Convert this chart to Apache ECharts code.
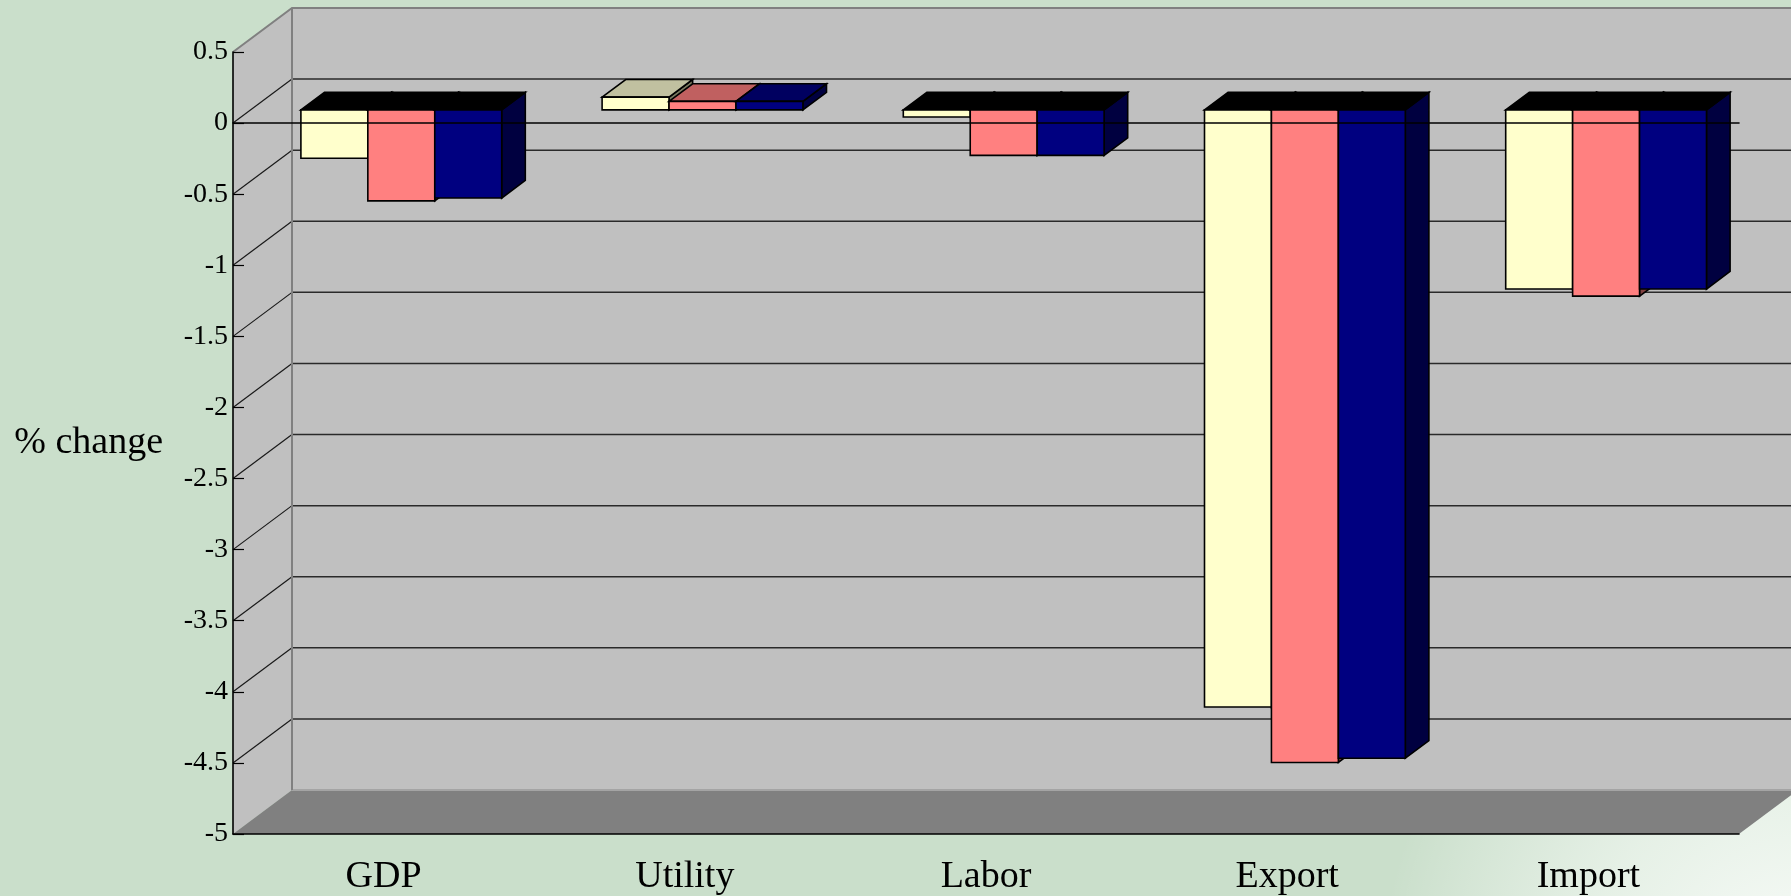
<!DOCTYPE html>
<html>
<head>
<meta charset="utf-8">
<title>% change</title>
<script src="https://cdn.jsdelivr.net/npm/echarts@6/dist/echarts.min.js"></script>
<style>
  html, body { margin: 0; padding: 0; background: #cadfcb; }
  #chart { width: 1791px; height: 896px; }
</style>
</head>
<body>
<div id="chart"></div>
<script>
// Categories and the three scenario results (% change)
const categories = ['GDP', 'Utility', 'Labor', 'Export', 'Import'];
const scenario1 = [-0.34, 0.09, -0.05, -4.20, -1.26];
const scenario2 = [-0.64, 0.06, -0.32, -4.59, -1.31];
const scenario3 = [-0.62, 0.06, -0.32, -4.56, -1.26];

// Value axis ticks
const yTicks = [0.5, 0, -0.5, -1, -1.5, -2, -2.5, -3, -3.5, -4, -4.5, -5];
const Y_MAX = yTicks[0];
const Y_MIN = yTicks[yTicks.length - 1];
const Y_STEP = yTicks[0] - yTicks[1];

// 3D look: depth of the walls in pixels, and the depth slice the bars occupy
const DX = 59, DY = 44;
const F0 = 0.3, F1 = 0.7;

const FRONT = ['#ffffcc', '#ff8080', '#000080'];
const TOP   = ['#c0c0a0', '#c06060', '#000060'];
const SIDE  = ['#7a7a60', '#804040', '#000040'];
const FONT = '"Liberation Serif", "Times New Roman", serif';

const chart = echarts.init(document.getElementById('chart'), null, { renderer: 'canvas' });

function renderWalls(params, api) {
  const cs = params.coordSys;
  const L = cs.x, R = cs.x + cs.width;
  const yAt = v => api.coord([0, v])[1];
  const yTop = yAt(Y_MAX), yBot = yAt(Y_MIN);
  const children = [];
  // side wall
  children.push({ type: 'polygon', shape: { points: [[L, yTop], [L + DX, yTop - DY], [L + DX, yBot - DY], [L, yBot]] },
    style: { fill: '#c0c0c0' } });
  // back wall
  children.push({ type: 'rect', shape: { x: L + DX, y: yTop - DY, width: R - L, height: yBot - yTop },
    style: { fill: '#c0c0c0' } });
  // floor
  children.push({ type: 'polygon', shape: { points: [[L, yBot], [R, yBot], [R + DX, yBot - DY], [L + DX, yBot - DY]] },
    style: { fill: '#808080' } });
  children.push({ type: 'line', shape: { x1: L + DX, y1: yBot - DY, x2: R + DX, y2: yBot - DY },
    style: { stroke: '#a4a4a4', lineWidth: 2 } });
  // gridlines on back wall and side wall
  yTicks.forEach(v => {
    if (v >= Y_MAX || v <= Y_MIN) return;
    const y = yAt(v);
    children.push({ type: 'line', shape: { x1: L + DX, y1: y - DY, x2: R + DX, y2: y - DY },
      style: { stroke: '#2a2a2a', lineWidth: 1.5 } });
    children.push({ type: 'line', shape: { x1: L, y1: y, x2: L + DX, y2: y - DY },
      style: { stroke: '#1a1a1a', lineWidth: 1.2 } });
  });
  // wall rims
  children.push({ type: 'polyline', shape: { points: [[L, yTop], [L + DX, yTop - DY], [R + DX, yTop - DY]] },
    style: { stroke: '#808080', lineWidth: 2, fill: null } });
  children.push({ type: 'line', shape: { x1: L + DX, y1: yTop - DY, x2: L + DX, y2: yBot - DY },
    style: { stroke: '#808080', lineWidth: 2 } });
  return { type: 'group', children };
}

function makeBarRenderer(s) {
  return function (params, api) {
    const cat = api.value(0), val = api.value(1);
    const band = api.size([1, 0])[0];
    const w = band / 4.5;
    const base = api.coord([cat, 0]);
    const yv = api.coord([cat, val])[1];
    const xl = base[0] - 1.5 * w + s * w, xr = xl + w;
    const yt = Math.min(base[1], yv), yb = Math.max(base[1], yv);
    const fx = F0 * DX, fy = F0 * DY, bx = F1 * DX, by = F1 * DY;
    const edge = { stroke: '#000', lineWidth: 1.6, lineJoin: 'miter' };
    const side = { type: 'polygon',
      shape: { points: [[xr + fx, yt - fy], [xr + bx, yt - by], [xr + bx, yb - by], [xr + fx, yb - fy]] },
      style: Object.assign({ fill: SIDE[s] }, edge) };
    const top = { type: 'polygon',
      shape: { points: [[xl + fx, yt - fy], [xl + bx, yt - by], [xr + bx, yt - by], [xr + fx, yt - fy]] },
      style: Object.assign({ fill: val < 0 ? '#000000' : TOP[s] }, edge) };
    const front = { type: 'rect',
      shape: { x: xl + fx, y: yt - fy, width: w, height: yb - yt },
      style: Object.assign({ fill: FRONT[s] }, edge) };
    return { type: 'group', children: [side, top, front] };
  };
}

function toData(arr) { return arr.map((v, i) => [i, v]); }

const option = {
  backgroundColor: '#cadfcb',
  animation: false,
  graphic: [{
    type: 'circle', left: 1380, top: 560, z: -10, silent: true,
    shape: { r: 420 },
    style: {
      fill: {
        type: 'radial', x: 0.5, y: 0.5, r: 0.5,
        colorStops: [
          { offset: 0, color: 'rgba(255,255,255,0.9)' },
          { offset: 0.5, color: 'rgba(248,252,248,0.6)' },
          { offset: 1, color: 'rgba(255,255,255,0)' }
        ]
      }
    }
  }],
  grid: { left: 233, right: 52, top: 52, bottom: 62, containLabel: false },
  xAxis: [{
    type: 'category', data: categories, position: 'bottom', z: 5,
    axisLine: { onZero: false, lineStyle: { color: '#000', width: 1.6 } },
    axisTick: { inside: true, length: 12, interval: 0, lineStyle: { color: '#000', width: 1.2 } },
    axisLabel: { fontFamily: FONT, fontSize: 38, color: '#000', margin: 24 },
    splitLine: { show: false }
  }, {
    type: 'category', data: categories, position: 'top', z: 10,
    axisLine: { onZero: true, onZeroAxisIndex: 0, lineStyle: { color: '#000', width: 1.6 } },
    axisTick: { inside: false, length: 12, interval: 0, lineStyle: { color: '#000', width: 1.2 } },
    axisLabel: { show: false },
    splitLine: { show: false }
  }],
  yAxis: {
    type: 'value', min: Y_MIN, max: Y_MAX, interval: Y_STEP, z: 5,
    name: '% change', nameLocation: 'middle', nameRotate: 0, nameGap: 70,
    nameTextStyle: { fontFamily: FONT, fontSize: 38, color: '#000', padding: [22, 0, 0, 0] },
    axisLine: { show: true, onZero: false, lineStyle: { color: '#000', width: 1.6 } },
    axisTick: { show: true, inside: true, length: 11, lineStyle: { color: '#000', width: 1.2 } },
    axisLabel: { fontFamily: FONT, fontSize: 28, color: '#000', margin: 5, padding: [8, 0, 0, 0] },
    splitLine: { show: false }
  },
  series: [
    { type: 'custom', name: 'walls', z: 0, silent: true, renderItem: renderWalls, data: [[0, 0]] },
    { type: 'custom', name: 'Scenario 1', z: 2, renderItem: makeBarRenderer(0), data: toData(scenario1) },
    { type: 'custom', name: 'Scenario 2', z: 2, renderItem: makeBarRenderer(1), data: toData(scenario2) },
    { type: 'custom', name: 'Scenario 3', z: 2, renderItem: makeBarRenderer(2), data: toData(scenario3) }
  ]
};

chart.setOption(option);
</script>
</body>
</html>
